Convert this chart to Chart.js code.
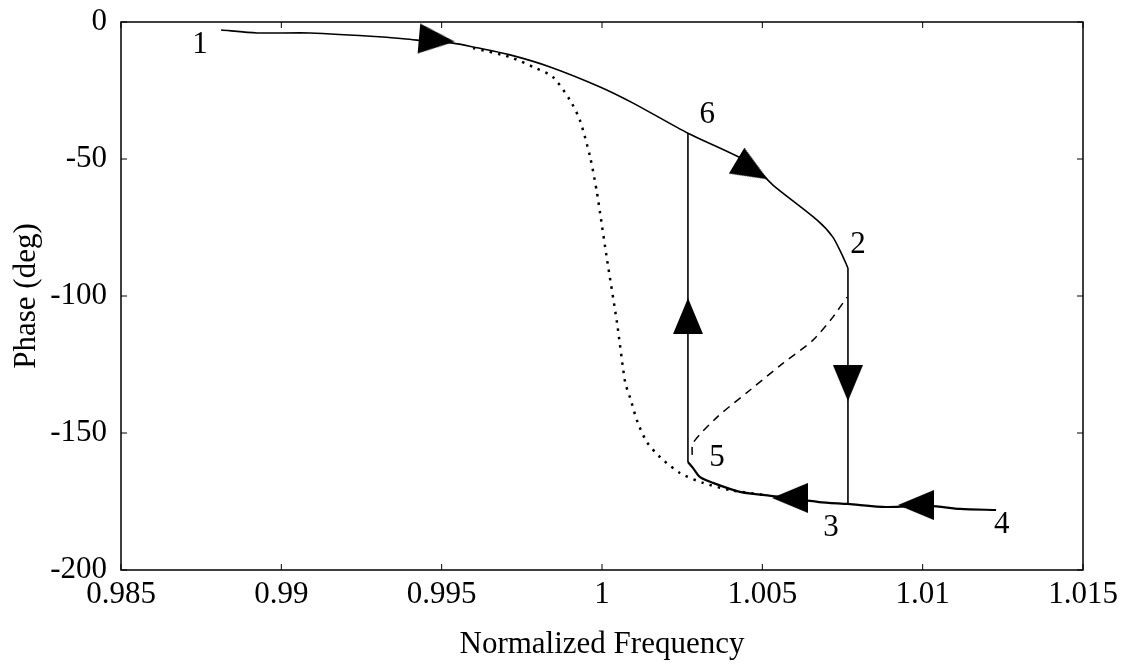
<!DOCTYPE html>
<html lang="en">
<head>
<meta charset="utf-8">
<title>Phase vs Normalized Frequency</title>
<script src="https://cdn.jsdelivr.net/npm/chart.js@4.4.1/dist/chart.umd.min.js"></script>
<style>
  html, body { margin: 0; padding: 0; background: #fff; }
  #wrap { width: 1135px; height: 668px; }
</style>
</head>
<body>
<div id="wrap"><canvas id="chart"></canvas></div>
<script>
// upward sweep: 1 -> 6 -> 2
const upFreq  = [0.98812, 0.98924, 0.99089, 0.99317, 0.99423, 0.99535, 0.99598, 0.99713, 0.99838, 0.99994, 1.00097, 1.00268, 1.00462, 1.00533, 1.00671, 1.00720, 1.00752, 1.00767];
const upPhase = [-2.9, -4.0, -4.0, -5.5, -6.6, -7.7, -9.1, -12.0, -16.4, -23.7, -29.6, -40.6, -51.5, -59.5, -72.3, -78.5, -85.8, -89.8];

// jump 2 -> 3
const dropFreq  = [1.00767, 1.00767];
const dropPhase = [-89.8, -175.9];

// downward sweep: 4 -> 3 -> 5
const downFreq  = [1.01229, 1.01117, 1.01023, 1.00886, 1.00767, 1.00677, 1.00586, 1.00502, 1.00430, 1.00346, 1.00306, 1.00284, 1.00268];
const downPhase = [-178.1, -177.7, -176.6, -177.0, -175.9, -175.2, -173.7, -172.6, -171.5, -168.2, -166.1, -162.8, -160.6];

// jump 5 -> 6
const jumpFreq  = [1.00268, 1.00268];
const jumpPhase = [-160.6, -40.6];

// dotted curve
const dotFreq  = [0.99598, 0.99713, 0.99785, 0.99847, 0.99900, 0.99931, 0.99963, 0.99984, 0.99994, 1.00016, 1.00047, 1.00072, 1.00087, 1.00112, 1.00140, 1.00181, 1.00243, 1.00315, 1.00399, 1.00502];
const dotPhase = [-9.5, -12.8, -16.4, -20.1, -28.5, -35.8, -49.3, -62.0, -69.7, -86.9, -109.9, -131.4, -136.9, -146.4, -153.3, -158.8, -164.6, -168.2, -170.8, -172.6];

// dashed (unstable) branch 5 -> 2
const dashFreq  = [1.00281, 1.00284, 1.00359, 1.00462, 1.00565, 1.00658, 1.00720, 1.00764];
const dashPhase = [-158.0, -153.6, -144.2, -134.3, -124.5, -116.1, -107.7, -100.4];

// direction arrows
const arrowFreq  = [0.99485, 1.00468, 1.00268, 1.00767, 1.00586, 1.00979];
const arrowPhase = [-6.6, -54.0, -107.3, -131.8, -173.7, -176.3];
const arrowAngle = [95, 121, 0, 180, 270, 270];

// point labels
const markText  = ['1', '6', '2', '5', '3', '4'];
const markFreq  = [0.98746, 1.00328, 1.00798, 1.00359, 1.00714, 1.01247];
const markPhase = [-8.4, -33.9, -81.4, -159.1, -184.7, -183.6];

const xTicks = [0.985, 0.99, 0.995, 1, 1.005, 1.01, 1.015];

const FONT = 'Liberation Serif, Times New Roman, serif';

function pts(xs, ys) {
  return xs.map((x, i) => ({x: x, y: ys[i]}));
}

function makeArrow() {
  const c = document.createElement('canvas');
  c.width = 30; c.height = 36;
  const g = c.getContext('2d');
  g.fillStyle = '#000';
  g.beginPath();
  g.moveTo(15, 0);
  g.lineTo(30, 36);
  g.lineTo(0, 36);
  g.closePath();
  g.fill();
  return c;
}

const lineStyle = {
  showLine: true,
  pointRadius: 0,
  borderColor: '#000',
  borderWidth: 1.6,
  fill: false,
  tension: 0.25
};

// frame with inward tick marks on all four sides
const framePlugin = {
  id: 'frame',
  afterDatasetsDraw(chart) {
    const {ctx, chartArea: a, scales} = chart;
    ctx.save();
    ctx.strokeStyle = '#000';
    ctx.lineWidth = 1.5;
    ctx.strokeRect(a.left, a.top, a.right - a.left, a.bottom - a.top);
    ctx.lineWidth = 1;
    ctx.beginPath();
    scales.x.ticks.forEach(t => {
      const px = scales.x.getPixelForValue(t.value);
      ctx.moveTo(px, a.bottom); ctx.lineTo(px, a.bottom - 6);
      ctx.moveTo(px, a.top); ctx.lineTo(px, a.top + 6);
    });
    scales.y.ticks.forEach(t => {
      const py = scales.y.getPixelForValue(t.value);
      ctx.moveTo(a.left, py); ctx.lineTo(a.left + 6, py);
      ctx.moveTo(a.right, py); ctx.lineTo(a.right - 6, py);
    });
    ctx.stroke();
    ctx.restore();
  }
};

const markPlugin = {
  id: 'marks',
  afterDraw(chart) {
    const {ctx, scales} = chart;
    ctx.save();
    ctx.fillStyle = '#000';
    ctx.font = '31px ' + FONT;
    ctx.textAlign = 'center';
    ctx.textBaseline = 'middle';
    markText.forEach((t, i) => {
      ctx.fillText(t, scales.x.getPixelForValue(markFreq[i]), scales.y.getPixelForValue(markPhase[i]));
    });
    ctx.restore();
  }
};

const arrowImg = makeArrow();

new Chart(document.getElementById('chart'), {
  type: 'scatter',
  data: {
    datasets: [
      {
        data: pts(arrowFreq, arrowPhase),
        pointStyle: arrowImg,
        pointRotation: arrowAngle,
        pointRadius: 18,
        showLine: false
      },
      Object.assign({data: pts(upFreq, upPhase)}, lineStyle),
      Object.assign({data: pts(dropFreq, dropPhase)}, lineStyle, {tension: 0}),
      Object.assign({data: pts(downFreq, downPhase)}, lineStyle, {borderWidth: 2.2}),
      Object.assign({data: pts(jumpFreq, jumpPhase)}, lineStyle, {tension: 0}),
      Object.assign({data: pts(dotFreq, dotPhase)}, lineStyle, {borderWidth: 2.5, borderDash: [2.5, 6]}),
      Object.assign({data: pts(dashFreq, dashPhase)}, lineStyle, {borderWidth: 1.5, borderDash: [8, 6]})
    ]
  },
  options: {
    responsive: true,
    maintainAspectRatio: false,
    animation: false,
    layout: {padding: {left: 0, right: 52, top: 22, bottom: 0}},
    plugins: {legend: {display: false}, tooltip: {enabled: false}},
    scales: {
      x: {
        type: 'linear',
        min: 0.985,
        max: 1.015,
        afterBuildTicks(scale) { scale.ticks = xTicks.map(v => ({value: v})); },
        afterFit(scale) {
          scale.height = 98;
          scale.paddingLeft = 0;
          scale.paddingRight = 0;
        },
        grid: {display: false, drawTicks: false},
        border: {display: false},
        ticks: {
          color: '#000',
          font: {family: FONT, size: 31},
          padding: 6,
          maxRotation: 0,
          autoSkip: false,
          callback: v => String(+v.toFixed(3))
        },
        title: {
          display: true,
          text: 'Normalized Frequency',
          color: '#000',
          font: {family: FONT, size: 31},
          padding: {top: 0, bottom: 5}
        }
      },
      y: {
        min: -200,
        max: 0,
        afterFit(scale) {
          scale.width = 121;
          scale.paddingTop = 0;
          scale.paddingBottom = 0;
        },
        grid: {display: false, drawTicks: false},
        border: {display: false},
        ticks: {
          color: '#000',
          font: {family: FONT, size: 31},
          stepSize: 50,
          padding: 14
        },
        title: {
          display: true,
          text: 'Phase (deg)',
          color: '#000',
          font: {family: FONT, size: 31},
          padding: {top: 8, bottom: 0}
        }
      }
    }
  },
  plugins: [framePlugin, markPlugin]
});
</script>
</body>
</html>
